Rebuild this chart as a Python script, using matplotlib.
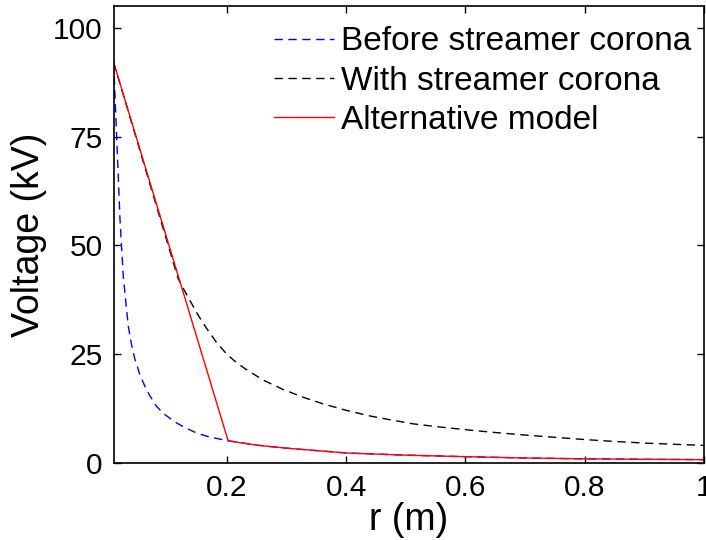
import matplotlib
matplotlib.use("Agg")
import matplotlib.pyplot as plt

plt.rcParams['font.family'] = ['Liberation Sans', 'DejaVu Sans']

# Before streamer corona
r_before = [0.01, 0.015, 0.0206, 0.0261, 0.0345, 0.04, 0.0457, 0.055, 0.0625,
            0.07, 0.082, 0.095, 0.1156, 0.13, 0.149, 0.17, 0.202, 0.25, 0.3,
            0.4, 0.5, 0.6, 0.7, 0.8, 0.9, 1.0]
v_before = [92, 75, 56, 42.9, 31.4, 27.2, 23.8, 19.9, 17.6,
            15.6, 13.0, 11.2, 9.2, 8.1, 6.9, 6.0, 5.1, 4.1, 3.4,
            2.3, 1.8, 1.45, 1.15, 0.95, 0.85, 0.77]

# With streamer corona
r_with = [0.01, 0.118, 0.128, 0.138, 0.152, 0.166, 0.182, 0.199, 0.214, 0.23,
          0.26, 0.294, 0.33, 0.361, 0.4, 0.44, 0.475, 0.512, 0.555,
          0.604, 0.65, 0.702, 0.75, 0.803, 0.85, 0.904, 0.95, 1.0]
v_with = [92, 42.4, 39.8, 37.3, 33.9, 30.9, 27.8, 25.1, 23.3, 21.7,
          19.1, 16.9, 15.0, 13.6, 12.1, 10.8, 9.9, 9.0, 8.3,
          7.6, 7.0, 6.4, 5.9, 5.36, 4.95, 4.55, 4.3, 4.05]

# Alternative model
r_alt = [0.01, 0.202, 0.25, 0.3, 0.4, 0.5, 0.6, 0.7, 0.8, 0.9, 1.0]
v_alt = [92, 5.1, 4.1, 3.4, 2.3, 1.8, 1.45, 1.15, 0.95, 0.85, 0.77]

x_ticks = [0.2, 0.4, 0.6, 0.8, 1.0]
x_labels = ["0.2", "0.4", "0.6", "0.8", "1"]
y_ticks = [0, 25, 50, 75, 100]

fig = plt.figure(figsize=(7.06, 5.4), dpi=100)
ax = fig.add_axes([0.161, 0.1426, 0.836, 0.8464])

ax.plot(r_before, v_before, color="blue", linestyle=(0, (6, 4)), linewidth=1.0,
        label="Before streamer corona")
ax.plot(r_with, v_with, color="black", linestyle=(0, (6, 4)), linewidth=1.0,
        label="With streamer corona")
ax.plot(r_alt, v_alt, color="red", linewidth=1.0, label="Alternative model")

ax.set_xlim(0.01, 1.0)
ax.set_ylim(0, 105)
ax.set_xticks(x_ticks)
ax.set_xticklabels(x_labels)
ax.set_yticks(y_ticks)
ax.tick_params(direction="in", length=5, width=1, labelsize=21.5,
               top=True, right=True, pad=8)
for s in ax.spines.values():
    s.set_linewidth(1.2)

ax.set_xlabel("r (m)", fontsize=27, labelpad=0)
ax.set_ylabel("Voltage (kV)", fontsize=27, labelpad=4)

ax.legend(loc="upper right", bbox_to_anchor=(1.012, 0.999), frameon=False,
          fontsize=24, handlelength=1.8, handletextpad=0.2, labelspacing=0.25,
          borderaxespad=0.3, borderpad=0.3)

plt.savefig("out.png", dpi=100)
